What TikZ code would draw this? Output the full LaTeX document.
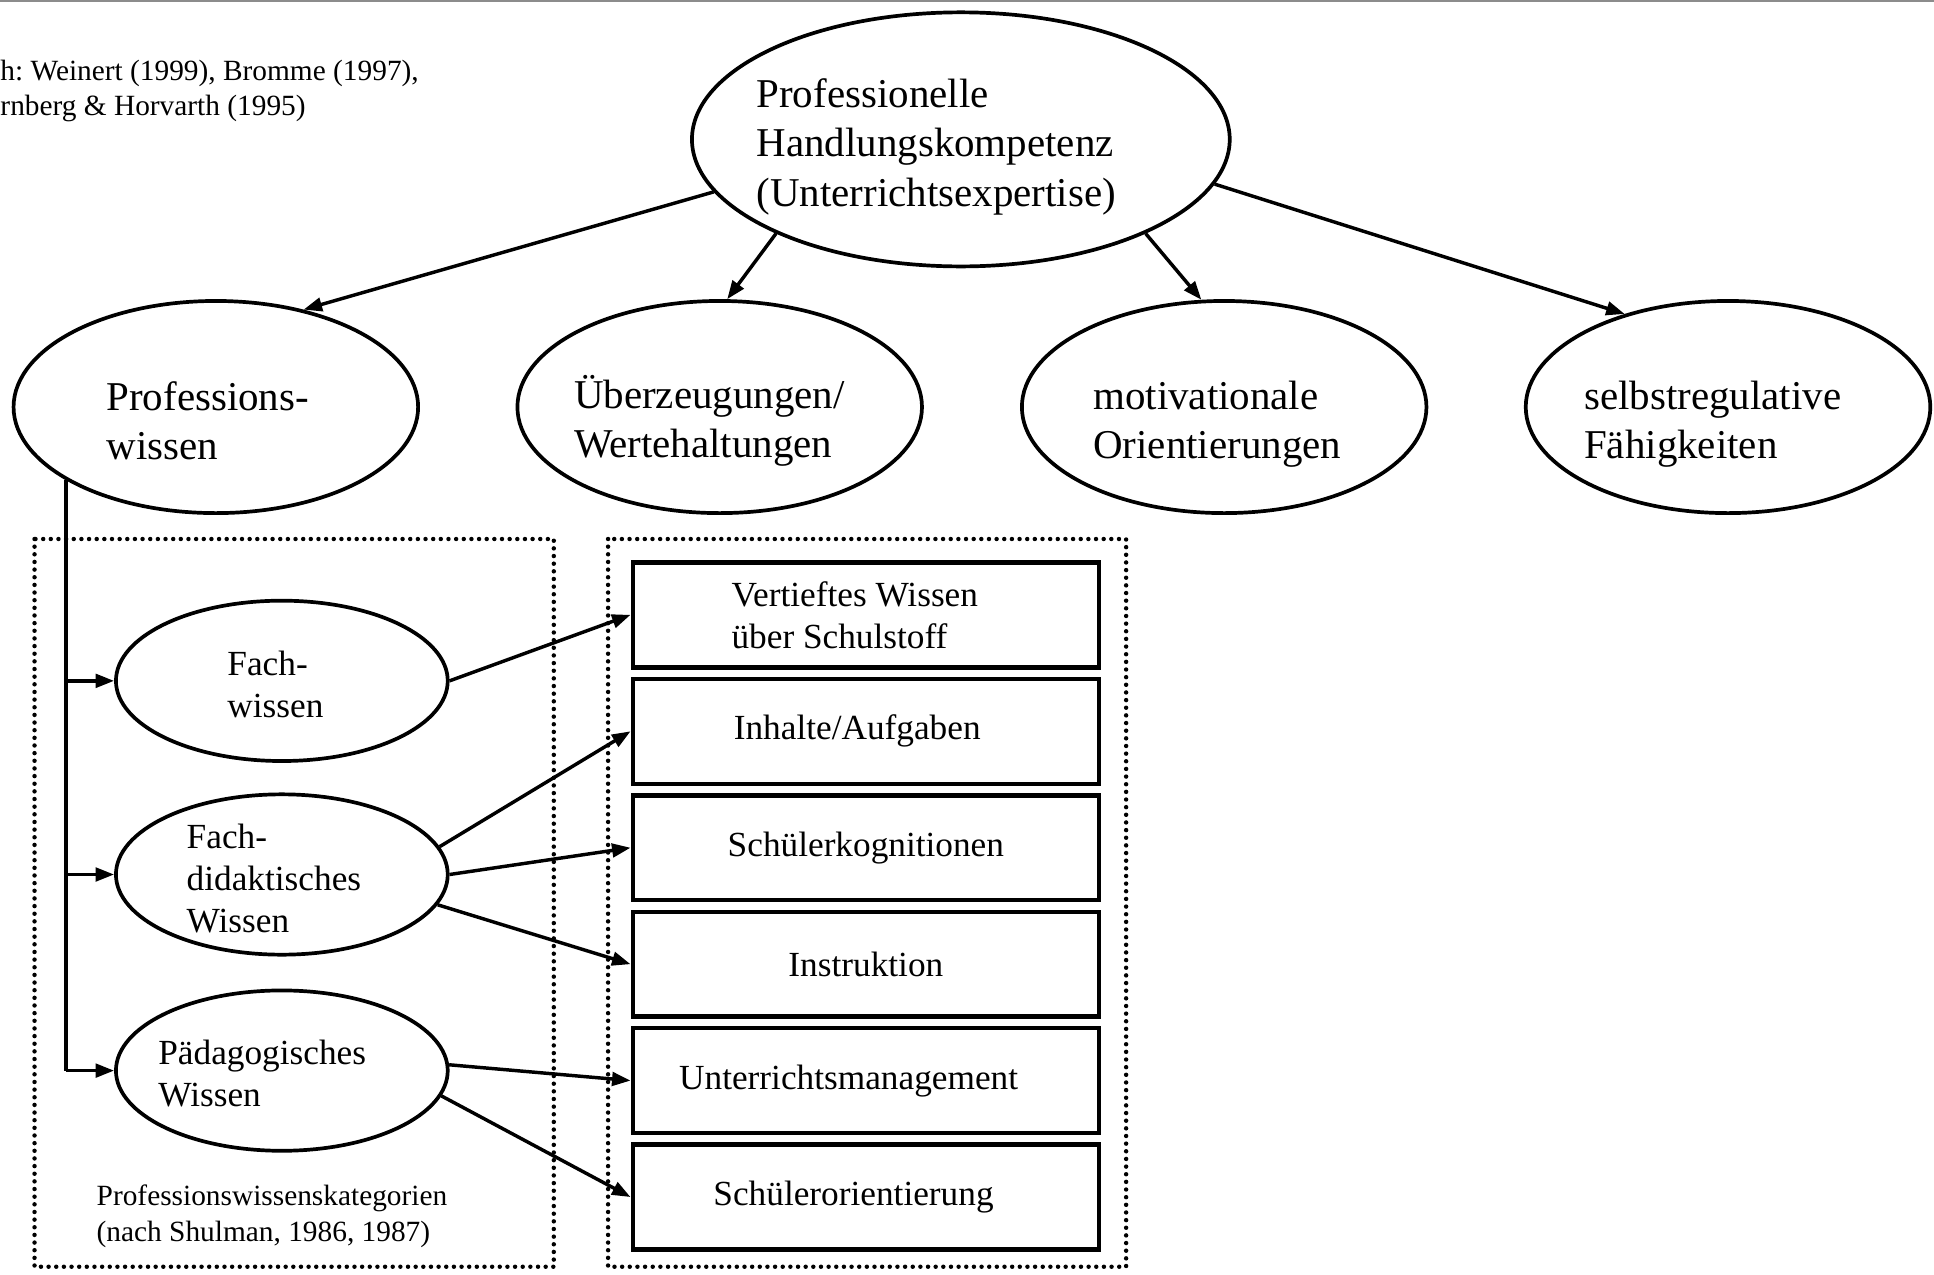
\documentclass[tikz,border=0pt]{standalone}
\usepackage{fontspec}
\setmainfont{Liberation Serif}
\frenchspacing
\usetikzlibrary{positioning, shapes.geometric, arrows.meta}
\definecolor{RuleGray}{RGB}{140, 140, 140}

\begin{document}
\begin{tikzpicture}[x=0.5pt, y=-0.5pt,
      bigbubble/.style={ellipse, draw, line width=1.5pt, minimum width=218pt, minimum height=103pt, inner sep=0pt},
      bubble/.style={ellipse, draw, line width=1.5pt, minimum width=164pt, minimum height=86pt, inner sep=0pt},
      smallbubble/.style={ellipse, draw, line width=1.5pt, minimum width=134.5pt, minimum height=65pt, inner sep=0pt},
      wbox/.style={rectangle, draw, line width=1.8pt, minimum width=189pt, minimum height=42.5pt, inner sep=0pt,
      align=left, font=\fontsize{14.3}{17}\selectfont},
      bigtxt/.style={anchor=west, inner sep=0pt, align=left, font=\fontsize{16.6}{20}\selectfont},
      smalltxt/.style={anchor=west, inner sep=0pt, align=left, font=\fontsize{14.3}{17}\selectfont},
      note/.style={anchor=west, inner sep=0pt, align=left, font=\fontsize{11.9}{14.3}\selectfont},
      arr/.style={-{Triangle[length=7.5pt, width=5.5pt]}, line width=1.4pt},
      dotbox/.style={line width=1.8pt, line cap=round, dash pattern=on 0pt off 3.1pt}
    ]
      \useasboundingbox (0,0) rectangle (1568,1033);
      \draw[RuleGray, line width=0.8pt] (0,0.8) -- (1568,0.8);

      % frames
      \draw[dotbox] (28,437) rectangle (449,1027);
      \draw[dotbox] (493,437) rectangle (913,1027);

      \node[note] (quelle) at (0,73.5) {h: Weinert (1999), Bromme (1997),\\rnberg \& Horvarth (1995)};
      \node[note] (kategorien) at (78,986) {Professionswissenskategorien\\(nach Shulman, 1986, 1987)};

      % top level
      \node[bigbubble] (kompetenz) at (779,113) {};
      \node[bigtxt] (kompetenzT) at (613,119) {Professionelle\\Handlungskompetenz\\(Unterrichtsexpertise)};

      \node[bubble] (wissen) at (175,330) {};
      \node[bubble] (werte) at (583.5,330) {};
      \node[bubble] (motiv) at (992.5,330) {};
      \node[bubble] (selbst) at (1401,330) {};
      \node[bigtxt] (wissenT) at (86,341) {Professions-\\wissen};
      \node[bigtxt] (werteT) at (465,341) {Überzeugungen/\\Wertehaltungen};
      \node[bigtxt] (motivT) at (886,344) {motivationale\\Orientierungen};
      \node[bigtxt] (selbstT) at (1284,344) {selbstregulative\\Fähigkeiten};

      % knowledge categories
      \node[smallbubble] (fachw) at (228.5,552) {};
      \node[smallbubble] (fachd) at (228.5,709) {};
      \node[smallbubble] (paed) at (228.5,868) {};
      \node[smalltxt] (fachwT) at (184,555) {Fach-\\wissen};
      \node[smalltxt] (fachdT) at (151,712.5) {Fach-\\didaktisches\\Wissen};
      \node[smalltxt] (paedT) at (128,870) {Pädagogisches\\Wissen};

      \node[wbox] (stoff) at (702,498.5) {Vertieftes Wissen\hspace*{9pt}\\über Schulstoff};
      \node[wbox, below=2.9pt of stoff] (aufgaben) {Inhalte/Aufgaben\hspace*{7pt}};
      \node[wbox, below=2.9pt of aufgaben] (kognition) {Schülerkognitionen};
      \node[wbox, below=2.9pt of kognition] (instruktion) {Instruktion};
      \node[wbox, below=2.9pt of instruktion] (management) {Unterrichtsmanagement\hspace*{14pt}};
      \node[wbox, below=2.9pt of management] (orient) {Schülerorientierung\hspace*{10pt}};

      \draw[arr] (kompetenz.192.6) -- (wissen.48);
      \draw[arr] (kompetenz.207.5) -- (werte.86);
      \draw[arr] (kompetenz.333.8) -- (motiv.102);
      \draw[arr] (kompetenz.350.4) -- (selbst.138);

      \draw[line width=1.5pt] (wissen.206) -- (wissen.206 |- paed.west);
      \draw[arr] (wissen.206 |- fachw.west) -- (fachw.west);
      \draw[arr] (wissen.206 |- fachd.west) -- (fachd.west);
      \draw[arr] (wissen.206 |- paed.west) -- (paed.west);

      \draw[arr] (fachw.east) -- (stoff.west);
      \draw[arr] (fachd.10) -- (aufgaben.west);
      \draw[arr] (fachd.east) -- (kognition.west);
      \draw[arr] (fachd.-11) -- (instruktion.west);
      \draw[arr] (paed.2) -- (management.west);
      \draw[arr] (paed.-9) -- (orient.west);
    \end{tikzpicture}
\end{document}
